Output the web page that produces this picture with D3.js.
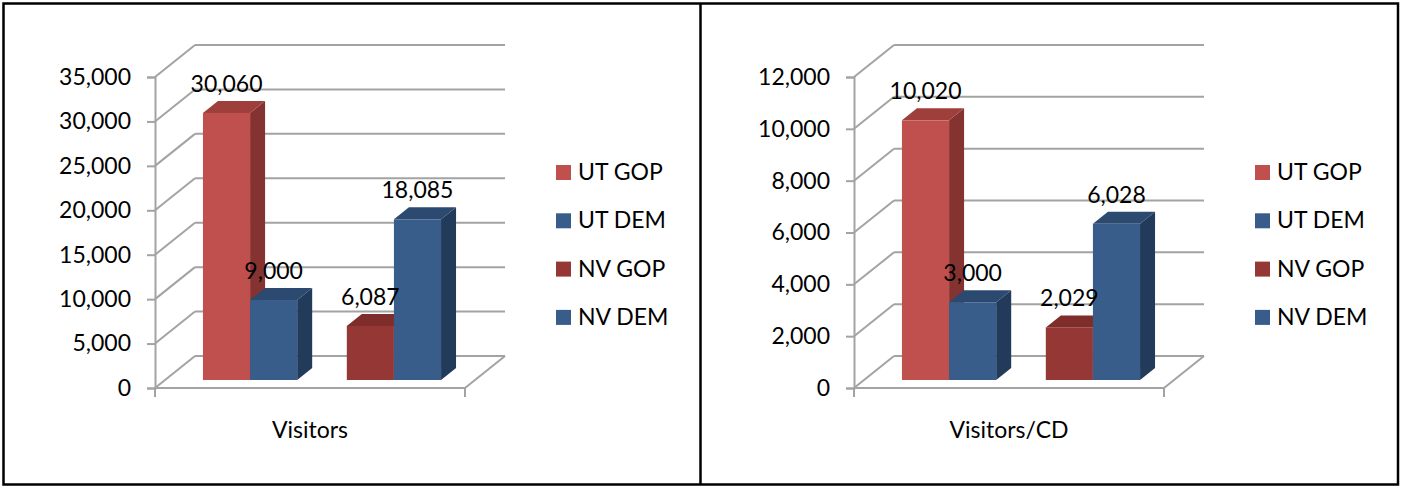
<!DOCTYPE html>
<html>
  <head>
    <meta charset="utf-8">
    <title>Visitors</title>
    <script src="https://cdnjs.cloudflare.com/ajax/libs/d3/7.8.5/d3.min.js"></script>
    <style>
      body { margin: 0; background-color: #FFF; }
      svg { display: block; font-family: Lato, "Open Sans", sans-serif; }
    </style>
  </head>
  <body>
    <svg width="1403" height="487"></svg>
    <script>
      // data
      var seriesNames = ["UT GOP", "UT DEM", "NV GOP", "NV DEM"];
      var seriesState = ["UT", "UT", "NV", "NV"];
      var seriesParty = ["GOP", "DEM", "GOP", "DEM"];
      var categories = ["Visitors", "Visitors/CD"];
      var visitors = [30060, 9000, 6087, 18085];
      var visitorsPerCD = [10020, 3000, 2029, 6028];
      var visitorTicks = [0, 5000, 10000, 15000, 20000, 25000, 30000, 35000];
      var perCDTicks = [0, 2000, 4000, 6000, 8000, 10000, 12000];

      // front, side, top shades per series
      var frontColors = ["#C0504D", "#385D8A", "#953735", "#385D8A"];
      var sideColors = ["#843330", "#233B5A", "#6E2826", "#233B5A"];
      var topColors = ["#9E3F3C", "#2C4A70", "#7E2D2B", "#2C4A70"];

      var svg = d3.select("svg");
      var fmt = d3.format(",");
      var grid = "#a3a3a3";

      // panel frame
      svg.append("rect").attr("x", 3.5).attr("y", 3.5).attr("width", 1394.5).attr("height", 481)
        .attr("fill", "none").attr("stroke", "#000").attr("stroke-width", 2.5);
      svg.append("line").attr("x1", 700.5).attr("x2", 700.5).attr("y1", 3).attr("y2", 485)
        .attr("stroke", "#000").attr("stroke-width", 2.5);

      // depth of the 3D box
      var DX = 40, DY = -32;
      function px(x, d) { return x + DX * d; }
      function py(y, d) { return y + DY * d; }

      function drawPanel(offsetX, title, values, ticks) {
        var g = svg.append("g").attr("transform", "translate(" + offsetX + ",0)");
        var x0 = 155, x1 = 465;
        var y = d3.scaleLinear().domain([0, d3.max(ticks)]).range([388, 77]);

        // side wall diagonals and back wall grid
        g.selectAll("line.diag").data(ticks).enter().append("line")
          .attr("x1", x0).attr("y1", function(d) { return y(d); })
          .attr("x2", px(x0, 1)).attr("y2", function(d) { return py(y(d), 1); })
          .attr("stroke", grid).attr("stroke-width", 2);
        g.selectAll("line.back").data(ticks).enter().append("line")
          .attr("x1", px(x0, 1)).attr("y1", function(d) { return py(y(d), 1); })
          .attr("x2", px(x1, 1)).attr("y2", function(d) { return py(y(d), 1); })
          .attr("stroke", grid).attr("stroke-width", 2);

        // floor
        g.append("line").attr("x1", x0).attr("y1", y(0)).attr("x2", x1).attr("y2", y(0))
          .attr("stroke", grid).attr("stroke-width", 2);
        g.append("line").attr("x1", x1).attr("y1", y(0)).attr("x2", px(x1, 1)).attr("y2", py(y(0), 1))
          .attr("stroke", grid).attr("stroke-width", 2);
        g.selectAll("line.xtick").data([x0, x1]).enter().append("line")
          .attr("x1", function(d) { return d; }).attr("x2", function(d) { return d; })
          .attr("y1", y(0)).attr("y2", y(0) + 9)
          .attr("stroke", grid).attr("stroke-width", 2);

        // value axis
        var axis = g.append("g").attr("transform", "translate(" + x0 + ",0)")
          .call(d3.axisLeft(y).tickValues(ticks).tickFormat(fmt).tickSize(8).tickPadding(16));
        axis.select(".domain").attr("stroke", grid).attr("stroke-width", 2);
        axis.selectAll(".tick line").attr("stroke", grid).attr("stroke-width", 2);
        axis.selectAll(".tick text").attr("fill", "#000").style("font-size", "23px")
          .style("font-family", "Lato, 'Open Sans', sans-serif");

        // bars: front plane at depth 0.25, back plane at 0.625
        var dFront = 0.25, dBack = 0.625;
        var xState = d3.scaleBand().domain(["UT", "NV"])
          .range([px(x0, dFront) + 2, px(x1, dFront) + 2]).paddingInner(0.345).paddingOuter(0.25);
        var xParty = d3.scaleBand().domain(["GOP", "DEM"]).range([0, xState.bandwidth()]);
        var bdx = DX * (dBack - dFront), bdy = DY * (dBack - dFront);
        var base = py(y(0), dFront);

        var bars = seriesNames.map(function(name, i) {
          var xl = xState(seriesState[i]) + xParty(seriesParty[i]);
          return {
            i: i, xl: xl, xr: xl + xParty.bandwidth(),
            yt: py(y(values[i]), dFront), yb: base, v: values[i]
          };
        });

        var bg = g.selectAll("g.bar").data(bars).enter().append("g");
        bg.append("path")
          .attr("d", function(b) {
            return "M" + b.xr + "," + b.yt + "L" + (b.xr + bdx) + "," + (b.yt + bdy) +
              "L" + (b.xr + bdx) + "," + (b.yb + bdy) + "L" + b.xr + "," + b.yb + "Z";
          })
          .attr("fill", function(b) { return sideColors[b.i]; });
        bg.append("path")
          .attr("d", function(b) {
            return "M" + b.xl + "," + b.yt + "L" + b.xr + "," + b.yt +
              "L" + (b.xr + bdx) + "," + (b.yt + bdy) + "L" + (b.xl + bdx) + "," + (b.yt + bdy) + "Z";
          })
          .attr("fill", function(b) { return topColors[b.i]; });
        bg.append("rect")
          .attr("x", function(b) { return b.xl; })
          .attr("y", function(b) { return b.yt; })
          .attr("width", function(b) { return b.xr - b.xl; })
          .attr("height", function(b) { return b.yb - b.yt; })
          .attr("fill", function(b) { return frontColors[b.i]; });

        // data labels
        g.selectAll("text.val").data(bars).enter().append("text")
          .attr("x", function(b) { return (b.xl + b.xr) / 2; })
          .attr("y", function(b) { return b.yt + bdy - 9; })
          .attr("text-anchor", "middle").style("font-size", "23px")
          .text(function(b) { return fmt(b.v); });

        // category label
        g.append("text").attr("x", (x0 + x1) / 2).attr("y", 438)
          .attr("text-anchor", "middle").style("font-size", "23px").text(title);

        // legend
        var lg = g.selectAll("g.leg").data(seriesNames).enter().append("g")
          .attr("transform", function(d, i) { return "translate(556," + (165 + i * 48.3) + ")"; });
        lg.append("rect").attr("width", 15).attr("height", 15)
          .attr("fill", function(d, i) { return frontColors[i]; });
        lg.append("text").attr("x", 22).attr("y", 15).style("font-size", "23px")
          .text(function(d) { return d; });
      }

      drawPanel(0, categories[0], visitors, visitorTicks);
      drawPanel(699, categories[1], visitorsPerCD, perCDTicks);
    </script>
  </body>
</html>
